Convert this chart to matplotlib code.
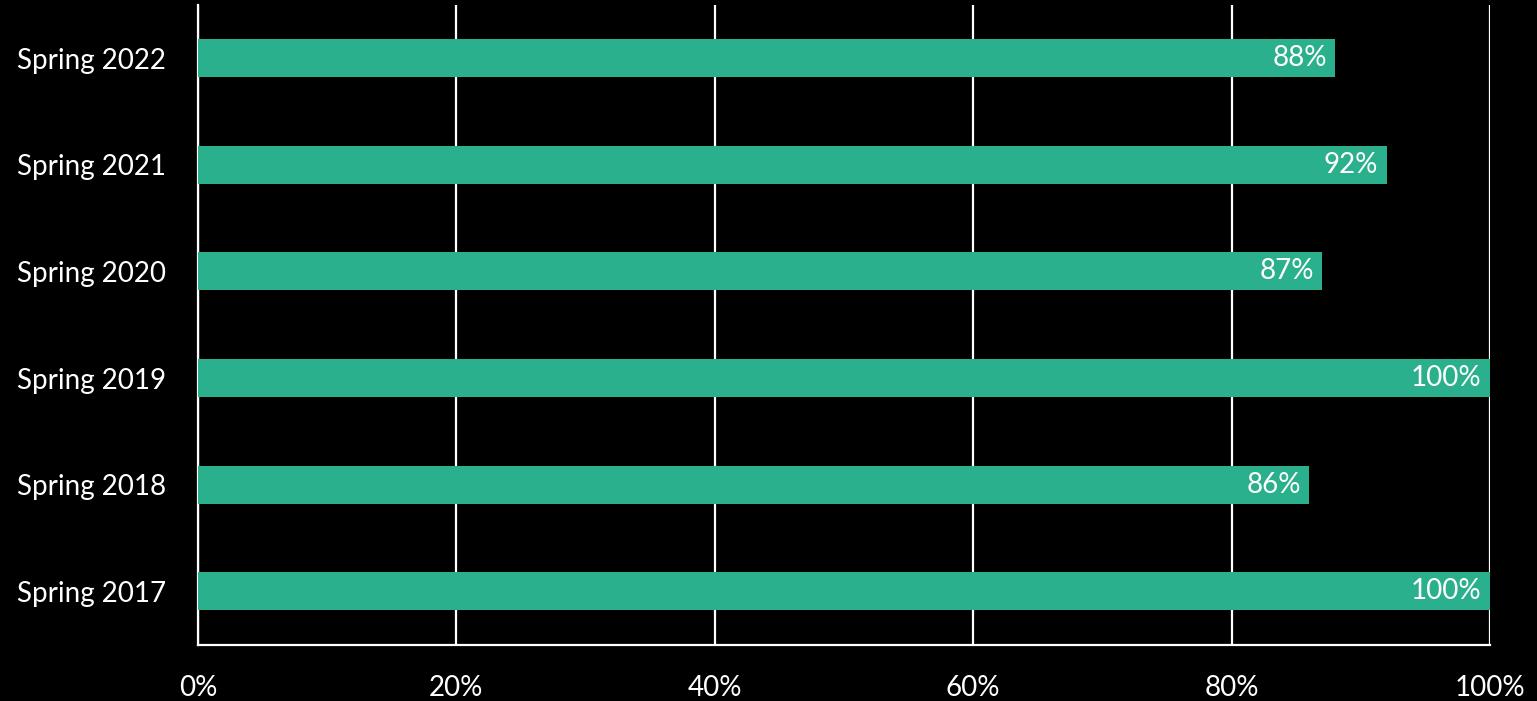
import matplotlib
matplotlib.use("Agg")
import matplotlib.pyplot as plt
from matplotlib.ticker import FuncFormatter

categories = ["Spring 2017", "Spring 2018", "Spring 2019", "Spring 2020", "Spring 2021", "Spring 2022"]
values = [100, 86, 100, 87, 92, 88]
xticks = [0, 20, 40, 60, 80, 100]

plt.rcParams['font.family'] = ['Lato', 'DejaVu Sans']

fig = plt.figure(figsize=(15.37, 7.01), dpi=100, facecolor='black')
ax = fig.add_axes([198 / 1537, 1 - 644.5 / 701, (1490 - 198) / 1537, (644.5 - 5) / 701])
ax.set_facecolor('black')

bars = ax.barh(range(len(categories)), values, height=0.356, color='#2BB08E', zorder=3)

for b, v in zip(bars, values):
    ax.annotate(f"{v}%", xy=(b.get_width(), b.get_y() + b.get_height() / 2),
                xytext=(-6, 0), textcoords='offset points',
                ha='right', va='center', color='white', fontsize=20, zorder=4)

ax.set_yticks(range(len(categories)))
ax.set_yticklabels(categories)
ax.set_ylim(-0.5, len(categories) - 0.5)
ax.set_xlim(0, 100)
ax.set_xticks(xticks)
ax.xaxis.set_major_formatter(FuncFormatter(lambda x, p: f"{int(x)}%"))

ax.tick_params(axis='both', length=0, colors='white', labelsize=20)
ax.tick_params(axis='y', pad=23)
ax.tick_params(axis='x', pad=22)

ax.grid(axis='x', color='white', linewidth=1.6, zorder=0)
for side in ['top', 'right']:
    ax.spines[side].set_visible(False)
for side in ['left', 'bottom']:
    ax.spines[side].set_color('white')
    ax.spines[side].set_linewidth(1.6)

fig.savefig("out.png", dpi=100, facecolor='black')
